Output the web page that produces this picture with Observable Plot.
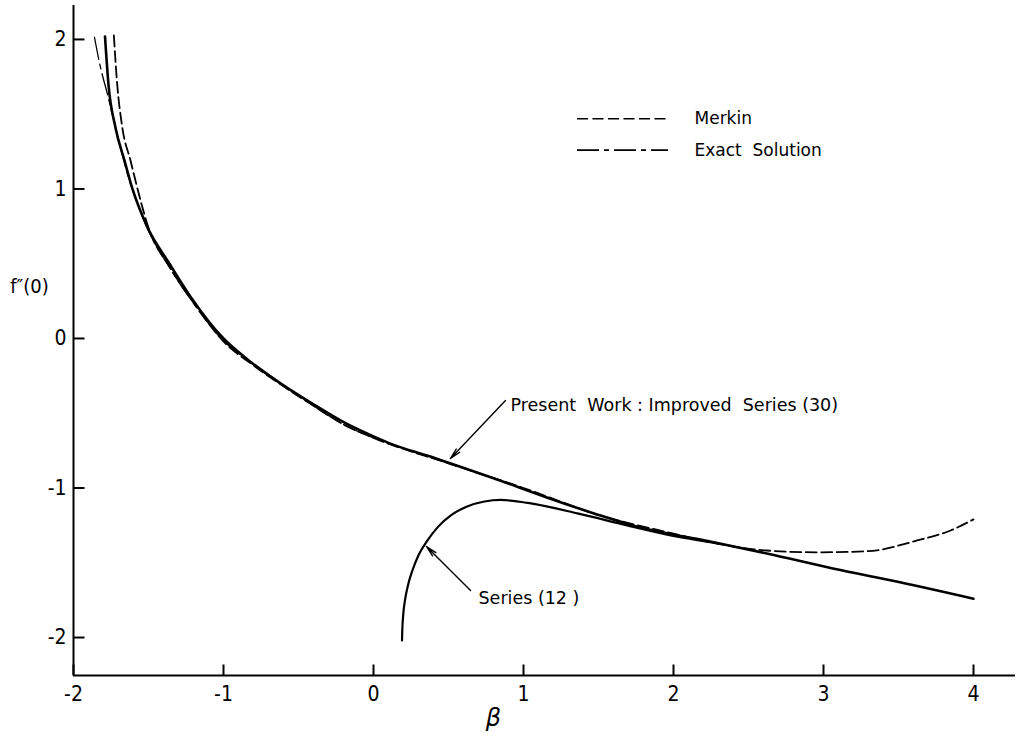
<!DOCTYPE html>
<html><head><meta charset="utf-8">
<script src="https://cdn.jsdelivr.net/npm/d3@7"></script>
<script src="https://cdn.jsdelivr.net/npm/@observablehq/plot@0.6"></script>
<style>body{margin:0;background:#fff} svg{display:block}</style>
</head><body><div id="chart"></div>
<script>
// axes
const xTicks = [-2, -1, 0, 1, 2, 3, 4];
const yTicks = [-2, -1, 0, 1, 2];
const xDomain = [-2, 4.28];
const yDomain = [-2.254, 2.227];

// Present Work : Improved Series (30)
const presentBeta = [-1.79, -1.767, -1.72, -1.66, -1.61, -1.51, -1.36, -1.22, -1.0, -0.84, -0.62, -0.40, -0.18, 0.0, 0.13, 0.38, 0.51, 0.80, 1.16, 1.47, 1.80, 2.18, 2.63, 3.07, 3.51, 4.0];
const presentF    = [2.02, 1.70, 1.41, 1.19, 1.01, 0.75, 0.50, 0.28, 0.0, -0.14, -0.30, -0.44, -0.57, -0.655, -0.71, -0.79, -0.835, -0.935, -1.065, -1.17, -1.27, -1.345, -1.44, -1.54, -1.63, -1.74];

// Series (12)
const seriesBeta = [0.19, 0.192, 0.198, 0.21, 0.23, 0.26, 0.30, 0.36, 0.43, 0.52, 0.62, 0.74, 0.85, 1.03, 1.36, 1.69, 1.95, 2.3];
const seriesF    = [-2.02, -1.95, -1.85, -1.75, -1.65, -1.55, -1.45, -1.35, -1.26, -1.18, -1.125, -1.09, -1.08, -1.10, -1.17, -1.25, -1.31, -1.37];

// Merkin (dashed)
const merkinBeta = [-1.731, -1.709, -1.675, -1.62, -1.553, -1.5, -1.36, -1.2, -1.0, -0.8, -0.6, -0.4, -0.2, 0, 0.5, 1.0, 1.5, 2.0, 2.29, 2.62, 2.96, 3.29, 3.625, 3.847, 4.0];
const merkinF    = [2.027, 1.704, 1.414, 1.19, 0.923, 0.74, 0.48, 0.24, -0.02, -0.18, -0.32, -0.45, -0.575, -0.665, -0.835, -1.0, -1.18, -1.305, -1.372, -1.418, -1.43, -1.423, -1.351, -1.284, -1.21];

// Exact Solution (dash-dot)
const exactBeta = [-1.86, -1.82, -1.775, -1.731, -1.69, -1.64, -1.58, -1.5, -1.36, -1.2, -1.0, -0.8, -0.6, -0.4, -0.2, 0.0];
const exactF    = [2.013, 1.813, 1.639, 1.458, 1.29, 1.10, 0.92, 0.72, 0.475, 0.235, -0.015, -0.175, -0.315, -0.45, -0.575, -0.665];

// annotations
const arrowFrom = [[0.88, -0.415], [0.647, -1.686]];
const arrowTo   = [[0.513, -0.803], [0.353, -1.391]];
const noteText  = ["Present\u00a0\u00a0Work\u00a0:\u00a0Improved\u00a0\u00a0Series\u00a0(30)", "Series\u00a0(12\u00a0)"];
const notePos   = [[0.913, -0.448], [0.70, -1.739]];

// legend
const legendLabels = ["Merkin", "Exact\u00a0\u00a0Solution"];
const legendDash   = ["11,4.5", "22,5,5,5"];
const legendY      = [1.47, 1.26];
const legendX      = [1.36, 1.967, 2.14];

const toRows = (bs, fs) => bs.map((b, i) => ({b, f: fs[i]}));
const present = toRows(presentBeta, presentF);
const series12 = toRows(seriesBeta, seriesF);
const merkin = toRows(merkinBeta, merkinF);
const exact = toRows(exactBeta, exactF);
const arrows = arrowFrom.map((p, i) => ({x1: p[0], y1: p[1], x2: arrowTo[i][0], y2: arrowTo[i][1]}));
const notes = noteText.map((t, i) => ({t, x: notePos[i][0], y: notePos[i][1]}));
const legendTexts = legendLabels.map((l, i) => ({t: l, x: legendX[2], y: legendY[i]}));
const legendMarks = legendLabels.map((l, i) =>
  Plot.ruleY([legendY[i]], {x1: legendX[0], x2: legendX[1], stroke: "black", strokeWidth: 1.6, strokeDasharray: legendDash[i]}));

const W = 1019, H = 742, ML = 73, MR = 4, MT = 5, MB = 67, TICK = 11;
const frameW = W - ML - MR, frameH = H - MT - MB;
// tick length converted from pixels to data units of each scale
const tickLenX = TICK * (xDomain[1] - xDomain[0]) / frameW;
const tickLenY = TICK * (yDomain[1] - yDomain[0]) / frameH;
const xTickRows = xTicks.map(t => ({x1: t, x2: t, y1: yDomain[0], y2: yDomain[0] + tickLenY}));
const yTickRows = yTicks.map(t => ({x1: xDomain[0], x2: xDomain[0] + tickLenX, y1: t, y2: t}));

const TICKFONT = "'DejaVu Sans Condensed', 'DejaVu Sans', sans-serif";
const TEXTFONT = "'DejaVu Sans', sans-serif";

const chart = Plot.plot({
  width: W, height: H,
  marginLeft: ML, marginRight: MR, marginTop: MT, marginBottom: MB,
  x: {domain: xDomain},
  y: {domain: yDomain},
  style: {fontFamily: TICKFONT, color: "black", background: "white", fontSize: "20px"},
  marks: [
    Plot.axisX(xTicks, {tickSize: 0, tickPadding: 11, tickFormat: d => String(d), label: null, fontSize: 21}),
    Plot.axisY(yTicks, {tickSize: 0, tickPadding: 7, tickFormat: d => String(d), label: null, fontSize: 21}),
    Plot.text(["β"], {x: 0.8, frameAnchor: "bottom", dy: 50, fontSize: 24, fontStyle: "italic", fontFamily: TEXTFONT}),
    Plot.text(["f\u2033(0)"], {x: xDomain[0], y: 0.35, dx: -44, fontSize: 20}),
    Plot.line(exact, {x: "b", y: "f", stroke: "black", strokeWidth: 1.3, strokeDasharray: "22,5,5,5", curve: "monotone-x"}),
    Plot.line(merkin, {x: "b", y: "f", stroke: "black", strokeWidth: 1.8, strokeDasharray: "11,4.5", curve: "monotone-x"}),
    Plot.line(present, {x: "b", y: "f", stroke: "black", strokeWidth: 2.6, curve: "monotone-x"}),
    Plot.line(series12, {x: "b", y: "f", stroke: "black", strokeWidth: 2.2, curve: "monotone-x"}),
    Plot.arrow(arrows, {x1: "x1", y1: "y1", x2: "x2", y2: "y2", stroke: "black", strokeWidth: 1.4, headLength: 12, headAngle: 24}),
    Plot.text(notes, {x: "x", y: "y", text: "t", textAnchor: "start", fontSize: 17.5, fontFamily: TEXTFONT}),
    ...legendMarks,
    Plot.text(legendTexts, {x: "x", y: "y", text: "t", textAnchor: "start", fontSize: 17, fontFamily: TEXTFONT}),
    // axis lines and inward ticks drawn last, on top of everything
    Plot.ruleX([xDomain[0]], {stroke: "black", strokeWidth: 2}),
    Plot.ruleY([yDomain[0]], {stroke: "black", strokeWidth: 2}),
    Plot.link(xTickRows, {x1: "x1", x2: "x2", y1: "y1", y2: "y2", stroke: "black", strokeWidth: 2}),
    Plot.link(yTickRows, {x1: "x1", x2: "x2", y1: "y1", y2: "y2", stroke: "black", strokeWidth: 2})
  ]
});
document.getElementById("chart").appendChild(chart);
</script>
</body></html>
